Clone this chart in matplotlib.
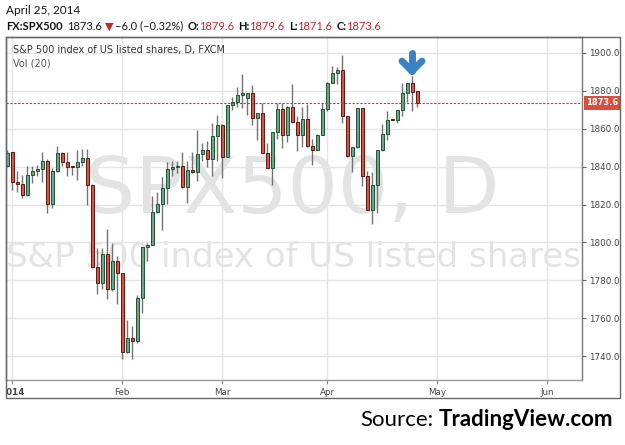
import numpy as np
import pandas as pd
import matplotlib
matplotlib.use("Agg")
import matplotlib.pyplot as plt
import matplotlib.transforms as mtransforms
from matplotlib.patches import Rectangle

# FXCM daily bars: every weekday except New Year's Day
days = pd.bdate_range("2013-12-31", "2014-06-30").drop(pd.Timestamp("2014-01-01"))

opens = [1840.4, 1847.5, 1832.1, 1830.7, 1824.8, 1835.6, 1837.4, 1838.6, 1843.1, 1820.2,
         1837.4, 1847.0, 1842.6, 1839.9, 1839.7, 1842.6, 1844.4, 1830.4, 1787.0, 1778.8,
         1794.0, 1775.6, 1790.0, 1783.8, 1742.3, 1749.8, 1748.1, 1770.7, 1797.5, 1798.7,
         1816.2, 1820.2, 1828.5, 1838.6, 1839.5, 1840.4, 1829.0, 1838.3, 1836.9, 1846.5,
         1848.6, 1844.2, 1856.2, 1862.0, 1845.0, 1872.5, 1874.2, 1877.7, 1876.0, 1878.6,
         1865.5, 1868.1, 1847.1, 1839.3, 1858.0, 1870.2, 1856.7, 1871.6, 1863.2, 1856.7,
         1865.0, 1850.6, 1848.9, 1856.7, 1870.2, 1884.2, 1889.4, 1890.7, 1866.7, 1845.4,
         1850.3, 1870.7, 1834.9, 1817.1, 1830.5, 1848.5, 1857.3, 1864.8, 1864.6, 1869.7,
         1878.5, 1883.8, 1879.6]
highs = [1848.5, 1847.8, 1837.9, 1835.6, 1840.3, 1840.3, 1840.9, 1847.5, 1843.8, 1839.1,
         1850.8, 1847.9, 1847.5, 1840.0, 1848.7, 1849.1, 1849.1, 1830.6, 1797.2, 1797.2,
         1807.1, 1799.8, 1792.7, 1784.0, 1759.0, 1756.0, 1772.4, 1797.6, 1799.8, 1824.3,
         1826.7, 1834.3, 1842.5, 1843.0, 1843.0, 1847.4, 1843.0, 1847.4, 1859.3, 1852.3,
         1853.5, 1862.9, 1867.2, 1862.3, 1872.6, 1876.5, 1882.1, 1888.7, 1878.8, 1883.0,
         1868.3, 1873.4, 1852.4, 1858.1, 1873.4, 1873.4, 1871.8, 1883.5, 1866.7, 1871.6,
         1873.0, 1854.5, 1857.0, 1873.7, 1884.3, 1892.9, 1892.5, 1898.7, 1866.8, 1850.4,
         1870.9, 1870.9, 1837.5, 1837.0, 1848.6, 1862.5, 1869.0, 1864.9, 1869.9, 1884.1,
         1884.1, 1887.6, 1879.6]
lows = [1839.8, 1827.4, 1826.4, 1823.4, 1824.5, 1831.3, 1834.8, 1832.1, 1815.5, 1818.1,
        1837.0, 1840.3, 1835.1, 1835.6, 1832.7, 1840.3, 1819.9, 1786.8, 1772.7, 1775.3,
        1770.1, 1774.7, 1767.7, 1738.8, 1742.0, 1738.5, 1747.2, 1763.0, 1790.0, 1798.5,
        1815.3, 1806.8, 1820.2, 1835.1, 1836.5, 1828.8, 1820.8, 1836.7, 1832.5, 1843.0,
        1839.5, 1834.9, 1842.8, 1834.0, 1844.8, 1869.9, 1871.6, 1870.7, 1867.2, 1862.0,
        1853.8, 1847.0, 1839.2, 1830.5, 1854.5, 1849.8, 1852.7, 1863.0, 1848.0, 1850.3,
        1850.4, 1841.0, 1848.7, 1856.5, 1869.0, 1883.8, 1883.5, 1862.9, 1845.0, 1837.0,
        1850.0, 1829.6, 1817.0, 1809.5, 1815.7, 1848.2, 1853.8, 1864.3, 1862.9, 1866.6,
        1874.0, 1869.4, 1871.6]
closes = [1847.3, 1832.1, 1830.7, 1824.8, 1835.6, 1837.4, 1838.6, 1843.1, 1820.2, 1837.4,
          1847.0, 1842.6, 1839.7, 1839.6, 1842.6, 1844.4, 1830.4, 1787.0, 1778.8, 1794.0,
          1775.3, 1790.0, 1783.8, 1742.3, 1749.8, 1748.1, 1770.7, 1797.5, 1798.7, 1816.2,
          1820.2, 1828.5, 1838.6, 1839.5, 1840.4, 1829.0, 1838.3, 1836.9, 1846.5, 1848.6,
          1844.2, 1856.2, 1862.0, 1845.0, 1872.5, 1874.2, 1877.7, 1878.6, 1878.6, 1865.5,
          1868.1, 1847.1, 1839.3, 1858.0, 1870.2, 1856.7, 1871.6, 1863.2, 1856.7, 1865.0,
          1850.6, 1848.9, 1856.7, 1870.2, 1884.2, 1889.4, 1890.7, 1866.7, 1845.4, 1850.3,
          1870.7, 1834.9, 1817.1, 1830.5, 1848.5, 1857.3, 1864.6, 1864.4, 1869.7, 1878.5,
          1883.8, 1879.0, 1873.6]

last_price = 1873.6
price_ticks = [1740, 1760, 1780, 1800, 1820, 1840, 1860, 1880, 1900]
month_names = ["2014", "Feb", "Mar", "Apr", "May", "Jun"]
arrow_bar = 81   # Apr 24

UP, UP_EDGE = "#6ba583", "#225437"
DOWN, DOWN_EDGE = "#d75442", "#5b1a13"
WICK = "#737375"

o = np.array(opens)
h = np.array(highs)
l = np.array(lows)
c = np.array(closes)
x = np.arange(len(o))
up = c >= o

W, H = 625, 445
fig = plt.figure(figsize=(W / 100, H / 100), dpi=100)
fig.patch.set_facecolor("white")

# plot area in pixels: x 5.5..582, y 37..380
ax = fig.add_axes([5.5 / W, (H - 380) / H, (582 - 5.5) / W, (380 - 37) / H])
ax.set_xlim(-0.3, 115)
ax.set_ylim(1727.6, 1908.2)

# watermark
ax.text(0.497, 0.487, "SPX500, D", transform=ax.transAxes, ha="center", va="baseline",
        fontsize=57, color="#e3e3e3", family="DejaVu Sans", zorder=0)
ax.text(0.5, 0.329, "S&P 500 index of US listed shares", transform=ax.transAxes,
        ha="center", va="baseline", fontsize=24.5, color="#e3e3e3", family="DejaVu Sans", zorder=0)

# grid
month_pos = [days.get_loc(days[(days.year == 2014) & (days.month == m)][0]) for m in range(1, 7)]
for p in month_pos:
    ax.axvline(p, color="#e4e4e4", lw=1, zorder=0.5)
for p in price_ticks:
    ax.axhline(p, color="#e4e4e4", lw=1, zorder=0.5)

# candles
ax.vlines(x, l, h, color=WICK, lw=1, zorder=2)
body_lo = np.minimum(o, c)
body_h = np.maximum(np.abs(c - o), 0.5)
ax.bar(x[up], body_h[up], bottom=body_lo[up], width=0.6, color=UP, edgecolor=UP_EDGE,
       linewidth=0.7, zorder=3)
ax.bar(x[~up], body_h[~up], bottom=body_lo[~up], width=0.6, color=DOWN, edgecolor=DOWN_EDGE,
       linewidth=0.7, zorder=3)

# last price line + label
ax.axhline(last_price, color="#c0392b", lw=0.8, ls=(0, (2, 1.5)), zorder=4)
ax.text(1 + 4 / 576.5, last_price, f"{last_price:.1f}", transform=ax.get_yaxis_transform(),
        ha="left", va="center", fontsize=6, color="white", fontweight="bold",
        bbox=dict(boxstyle="square,pad=0.3", fc="#d9503f", ec="none"), clip_on=False, zorder=6)

# axes styling
ax.yaxis.tick_right()
ax.set_yticks(price_ticks)
ax.set_yticklabels([f"{p:.1f}" for p in price_ticks])
ax.tick_params(axis="y", length=3, width=0.8, color="#666", labelsize=6.3, labelcolor="#444", pad=2)
ax.set_xticks(month_pos)
ax.set_xticklabels(month_names)
ax.tick_params(axis="x", length=3, width=0.8, color="#888", labelsize=6.3, labelcolor="#444", pad=3)
first = ax.get_xticklabels()[0]
first.set_fontweight("bold")
first.set_clip_box(mtransforms.Bbox.from_extents(ax.bbox.x0, 0, fig.bbox.x1, fig.bbox.y1))
first.set_clip_on(True)
for s in ax.spines.values():
    s.set_color("#777")
    s.set_linewidth(1)
ax.spines["bottom"].set_color("#999")

# outer chart frame
fig.add_artist(Rectangle((5.5 / W, (H - 398) / H), (620 - 5.5) / W, (398 - 37) / H,
                         transform=fig.transFigure, fill=False, ec="#666", lw=1))

# legend texts inside the pane
ax.text(7.5 / 576.5, 1 - 13 / 343, "S&P 500 index of US listed shares, D, FXCM", transform=ax.transAxes,
        ha="left", va="center", fontsize=7, color="#333")
ax.text(7.5 / 576.5, 1 - 27 / 343, "Vol (20)", transform=ax.transAxes,
        ha="left", va="center", fontsize=7, color="#555")

# blue marker arrow over Apr 24
tip = ax.transData.transform((arrow_bar, highs[arrow_bar]))
arrow_tr = mtransforms.Affine2D().translate(tip[0], tip[1])
for xs, ys in [([0, 0], [5, 23]), ([-10, 0], [15, 5]), ([10, 0], [15, 5])]:
    ax.plot(xs, ys, transform=arrow_tr, color="#3b82c4", lw=5, solid_capstyle="round",
            clip_on=False, zorder=7)

# header
hdr_font = ["Lato", "DejaVu Sans"]
fig.text(6 / W, 1 - 10 / H, "April 25, 2014", ha="left", va="center", fontsize=8.5,
         family=hdr_font, color="#111")

renderer = fig.canvas.get_renderer()
red = "#c0282d"
pieces = [("FX:SPX500", "#111", "bold", 4), ("1873.6", "#111", "normal", 3),
          ("\u25bc", red, "normal", 2), ("\u22126.0 (\u22120.32%)", "#111", "normal", 4),
          ("O:", "#111", "bold", 0), ("1879.6", red, "normal", 4),
          ("H:", "#111", "bold", 0), ("1879.6", red, "normal", 4),
          ("L:", "#111", "bold", 0), ("1871.6", red, "normal", 4),
          ("C:", "#111", "bold", 0), ("1873.6", red, "normal", 0)]
xpix = 6
for txt, col, wt, gap in pieces:
    t = fig.text(xpix / W, 1 - 26 / H, txt, ha="left", va="center", fontsize=8,
                 family=hdr_font, color=col, fontweight=wt)
    xpix = t.get_window_extent(renderer).x1 + gap

# source line
src = fig.text(613 / W, 1 - 420 / H, "TradingView.com", ha="right", va="center", fontsize=16,
               family="Lato", fontweight="bold", color="black")
x0 = src.get_window_extent(renderer).x0
fig.text((x0 - 5) / W, 1 - 420 / H, "Source:", ha="right", va="center", fontsize=16,
         family="Lato", color="black")

fig.savefig("out.png", dpi=100)
